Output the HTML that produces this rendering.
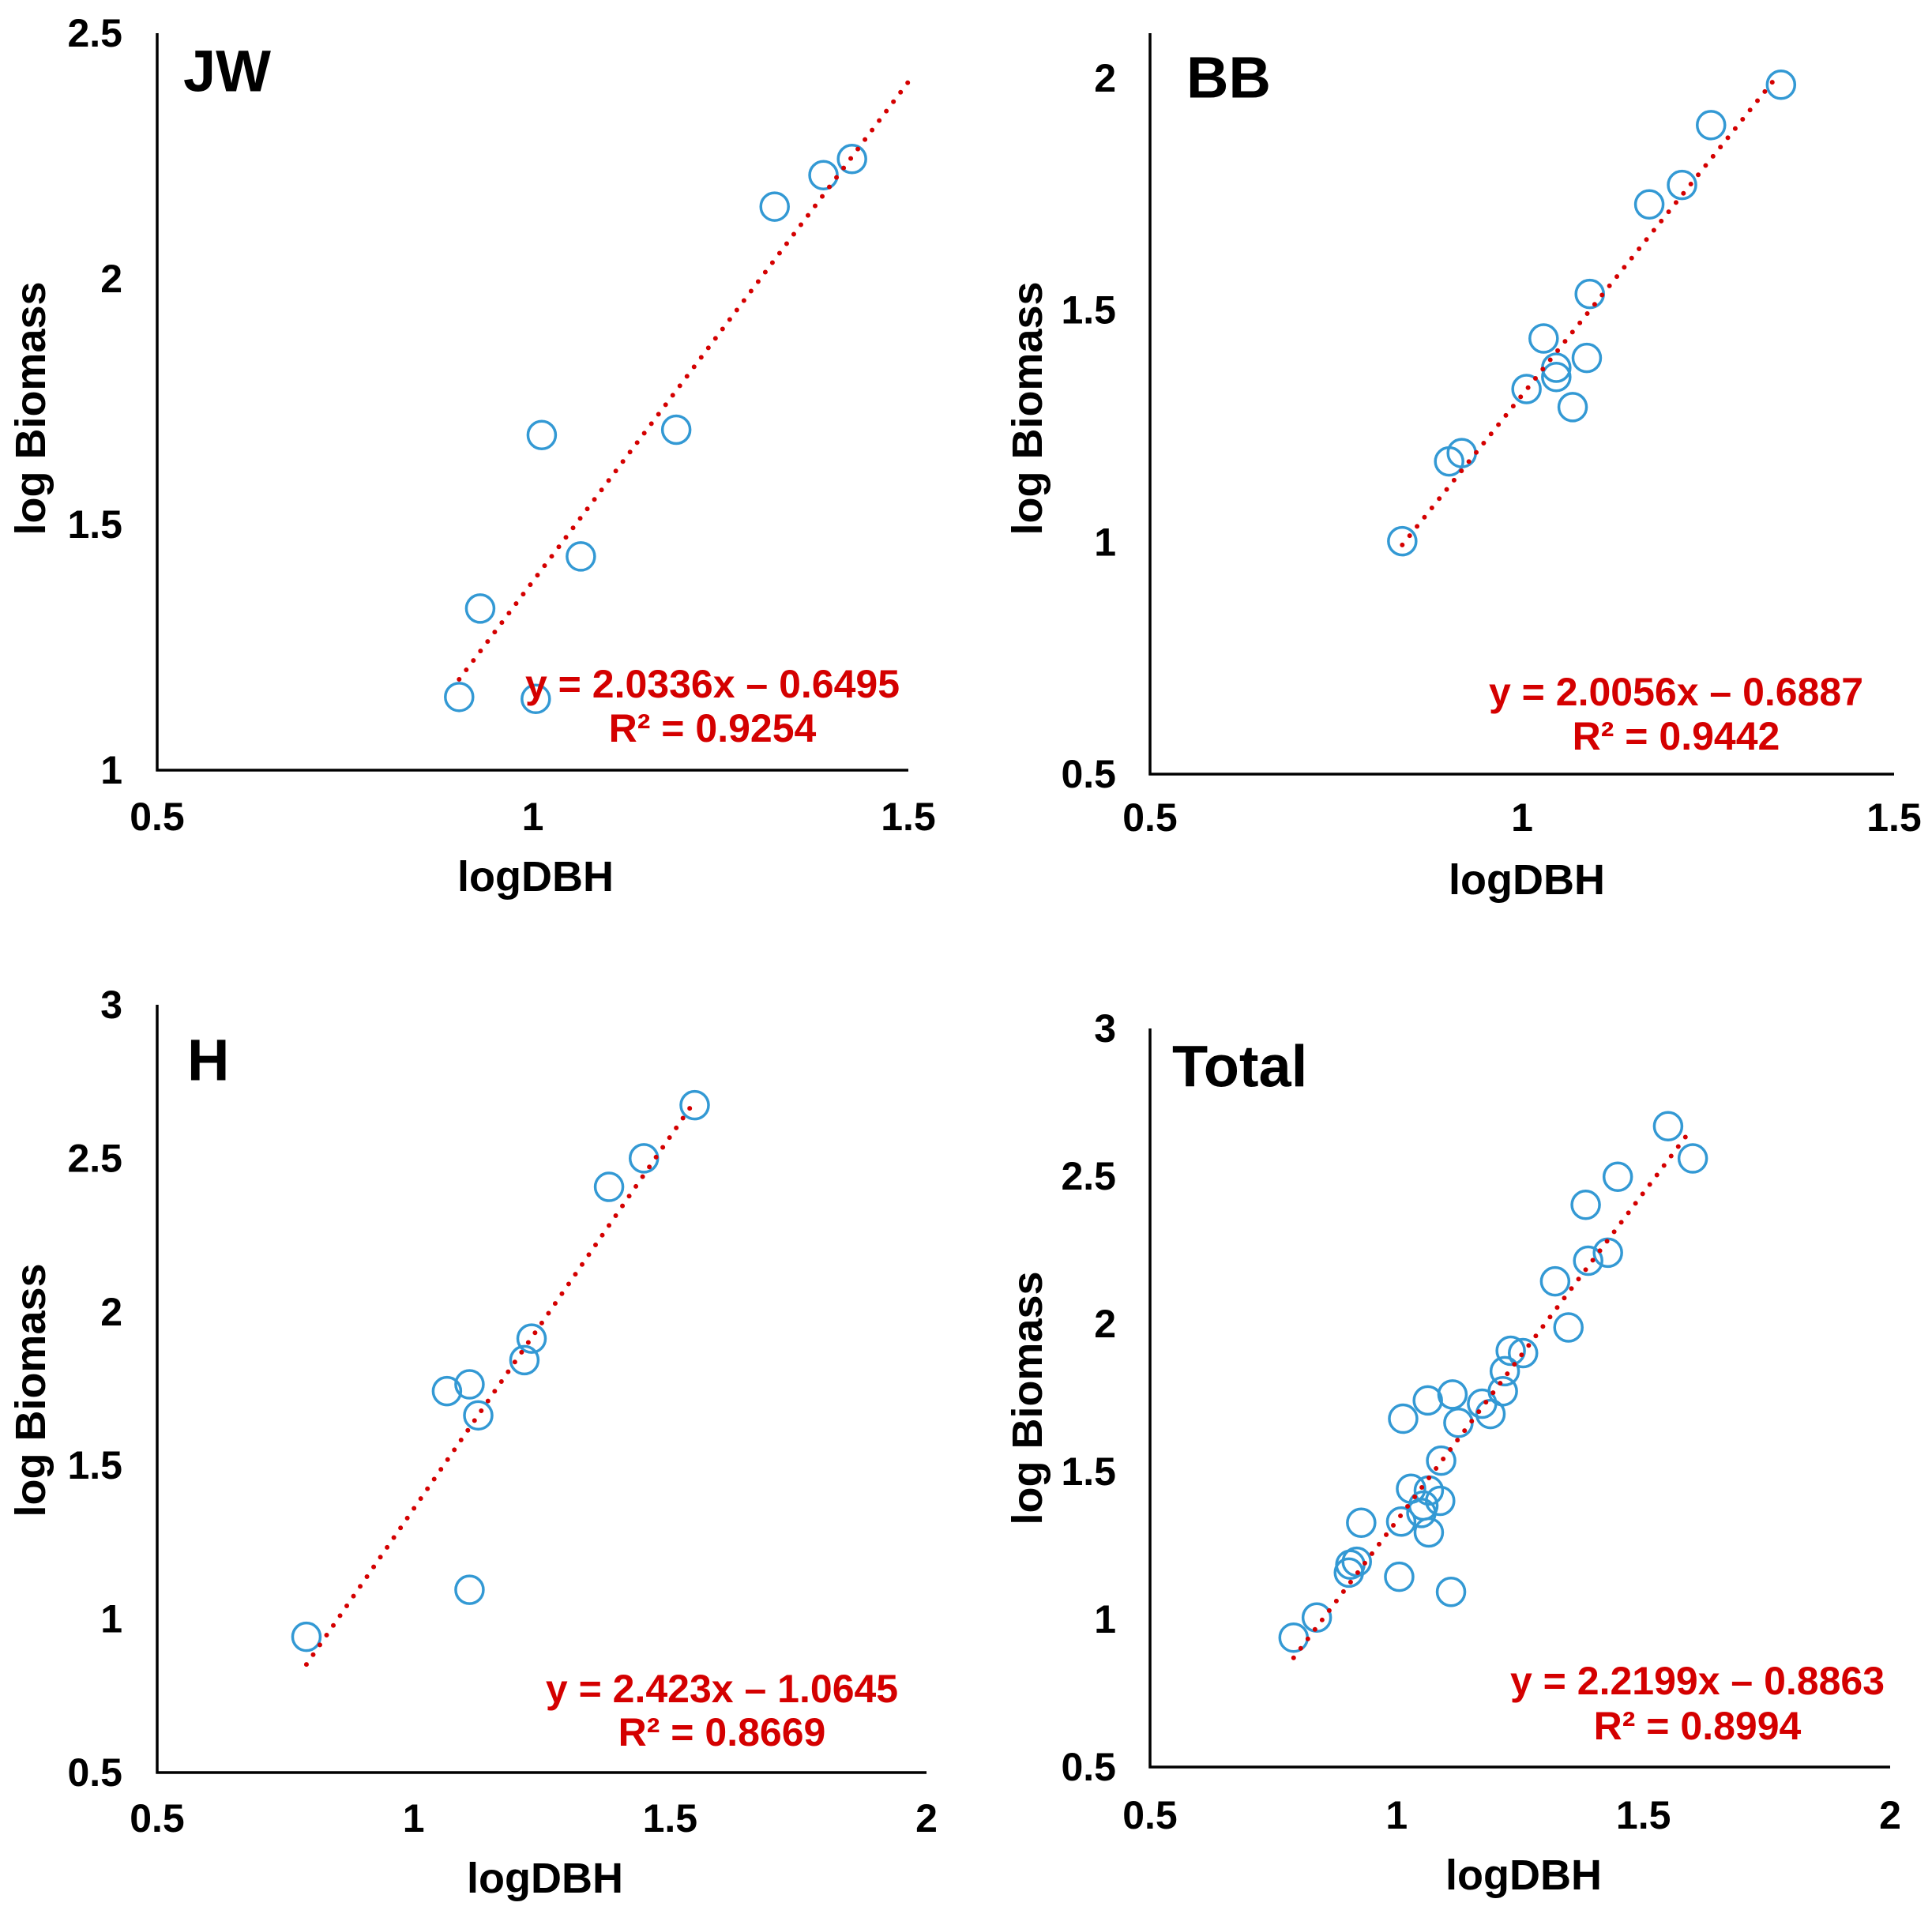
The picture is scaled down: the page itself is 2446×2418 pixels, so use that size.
<!DOCTYPE html>
<html><head><meta charset="utf-8"><style>
html,body{margin:0;padding:0;background:#fff;}
svg{display:block;font-family:"Liberation Sans",Arial,sans-serif;font-weight:bold;}
</style></head><body>
<svg id="fig" width="2446" height="2418" viewBox="0 0 2446 2418" xmlns="http://www.w3.org/2000/svg"></svg>
<script>
// ---- data ----
const jwX = [0.902,0.930,1.004,1.012,1.064,1.191,1.322,1.387,1.425];
const jwY = [1.149,1.329,1.145,1.682,1.435,1.693,2.147,2.211,2.244];
const bbX = [0.839,0.902,0.919,1.006,1.029,1.046,1.046,1.068,1.087,1.091,1.171,1.215,1.254,1.348];
const bbY = [1.002,1.174,1.192,1.330,1.439,1.376,1.356,1.291,1.397,1.535,1.728,1.770,1.899,1.986];
const hX = [0.791,1.065,1.109,1.126,1.109,1.216,1.230,1.381,1.449,1.548];
const hY = [0.942,1.742,1.764,1.663,1.095,1.843,1.913,2.407,2.500,2.673];
const totX = [0.791,0.838,0.903,0.906,0.919,0.928,1.005,1.009,1.013,1.029,1.050,1.054,1.065,1.065,1.063,1.088,1.090,1.110,1.113,1.125,1.173,1.190,1.215,1.219,1.231,1.256,1.321,1.348,1.383,1.388,1.428,1.448,1.550,1.600];
const totY = [0.938,1.006,1.158,1.185,1.195,1.327,1.144,1.331,1.679,1.442,1.360,1.385,1.436,1.294,1.741,1.401,1.537,1.093,1.761,1.665,1.730,1.695,1.772,1.840,1.909,1.901,2.144,1.988,2.403,2.214,2.241,2.498,2.669,2.560];
const jwXTicks = ["0.5","1","1.5"], jwYTicks = ["1","1.5","2","2.5"];
const bbXTicks = ["0.5","1","1.5"], bbYTicks = ["0.5","1","1.5","2"];
const hXTicks = ["0.5","1","1.5","2"], hYTicks = ["0.5","1","1.5","2","2.5","3"];
const totXTicks = ["0.5","1","1.5","2"], totYTicks = ["0.5","1","1.5","2","2.5","3"];
const jwFit = [2.0336,-0.6495,0.902,1.5], bbFit = [2.0056,-0.6887,0.839,1.338];
const hFit = [2.423,-1.0645,0.791,1.55], totFit = [2.2199,-0.8863,0.791,1.59];
const jwEq = ["y = 2.0336x – 0.6495","R² = 0.9254"];
const bbEq = ["y = 2.0056x – 0.6887","R² = 0.9442"];
const hEq = ["y = 2.423x – 1.0645","R² = 0.8669"];
const totEq = ["y = 2.2199x – 0.8863","R² = 0.8994"];

const NS="http://www.w3.org/2000/svg";
const svg=document.getElementById('fig');
function mk(tag,attrs,parent,txt){const e=document.createElementNS(NS,tag);for(const k in attrs)e.setAttribute(k,attrs[k]);if(txt!==undefined)e.textContent=txt;parent.appendChild(e);return e;}

function panel(p){
  const g=mk('g',{},svg);
  
  
  const sx=v=>p.x0+(v-p.xmin)/(p.xmax-p.xmin)*(p.x1-p.x0);
  const sy=v=>p.y0-(v-p.ymin)/(p.ymax-p.ymin)*(p.y0-p.y1);
  const ya=mk('line',{x1:p.x0,y1:p.axTop,x2:p.x0,y2:p.y0+1.5,stroke:'#000','stroke-width':3.5},g);
  
  
  const xa=mk('line',{x1:p.x0-1.5,y1:p.y0,x2:p.x1,y2:p.y0,stroke:'#000','stroke-width':3.5},g);
  
  
  p.xt.forEach(t=>{
    const e=mk('text',{x:sx(+t),y:p.xtY,'text-anchor':'middle','dominant-baseline':'central','font-size':50},g,t);
    
    
  });
  p.yt.forEach(t=>{
    const e=mk('text',{x:p.ytX,y:sy(+t),'text-anchor':'end','dominant-baseline':'central','font-size':50},g,t);
    
    
  });
  const xtl=mk('text',{x:p.xtitle[0],y:p.xtitle[1],'text-anchor':'middle','dominant-baseline':'central','font-size':54},g,'logDBH');
  
  
  const ytl=mk('text',{x:0,y:0,'text-anchor':'middle','dominant-baseline':'central','font-size':54,transform:`translate(${p.ytitle[0]},${p.ytitle[1]}) rotate(-90)`},g,'log Biomass');
  
  
  const pl=mk('text',{x:p.lab[0],y:p.lab[1],'dominant-baseline':'central','font-size':74},g,p.name);
  
  
  p.X.forEach((v,i)=>{
    const c=mk('circle',{cx:sx(v),cy:sy(p.Y[i]),r:17.5,fill:'none',stroke:'#3399d4','stroke-width':3.5},g);
    
    
  });
  const [m,b,xa0,xa1]=p.fit;
  const tl=mk('line',{x1:sx(xa0),y1:sy(m*xa0+b),x2:sx(xa1),y2:sy(m*xa1+b),stroke:'#d40000','stroke-width':6,'stroke-linecap':'round','stroke-dasharray':'0 15'},g);
  
  
  p.eq.forEach((s,i)=>{
    const e=mk('text',{x:p.eqPos[0],y:p.eqPos[1]+i*p.eqGap,'text-anchor':'middle','dominant-baseline':'central','font-size':50,fill:'#d40000'},g,s);
    
    
  });
}

panel({id:'jw',name:'JW',X:jwX,Y:jwY,xt:jwXTicks,yt:jwYTicks,fit:jwFit,eq:jwEq,
  x0:199,x1:1150,xmin:0.5,xmax:1.5,y0:975,y1:42,ymin:1,ymax:2.5,axTop:42,
  xtY:1034,ytX:155,xtitle:[678,1110],ytitle:[39,517],lab:[232,90],eqPos:[902,866],eqGap:56});
panel({id:'bb',name:'BB',X:bbX,Y:bbY,xt:bbXTicks,yt:bbYTicks,fit:bbFit,eq:bbEq,
  x0:1456,x1:2398,xmin:0.5,xmax:1.5,y0:980,y1:99,ymin:0.5,ymax:2,axTop:42,
  xtY:1035,ytX:1413,xtitle:[1933,1114],ytitle:[1301,517],lab:[1502,98],eqPos:[2122,876],eqGap:56});
panel({id:'h',name:'H',X:hX,Y:hY,xt:hXTicks,yt:hYTicks,fit:hFit,eq:hEq,
  x0:199,x1:1173,xmin:0.5,xmax:2,y0:2244,y1:1272,ymin:0.5,ymax:3,axTop:1272,
  xtY:2302,ytX:155,xtitle:[690,2378],ytitle:[39,1760],lab:[237,1342],eqPos:[914,2138],eqGap:55});
panel({id:'total',name:'Total',X:totX,Y:totY,xt:totXTicks,yt:totYTicks,fit:totFit,eq:totEq,
  x0:1456,x1:2393,xmin:0.5,xmax:2,y0:2237,y1:1302,ymin:0.5,ymax:3,axTop:1302,
  xtY:2298,ytX:1413,xtitle:[1929,2374],ytitle:[1301,1770],lab:[1484,1350],eqPos:[2149,2128],eqGap:57});
</script>
</body></html>
